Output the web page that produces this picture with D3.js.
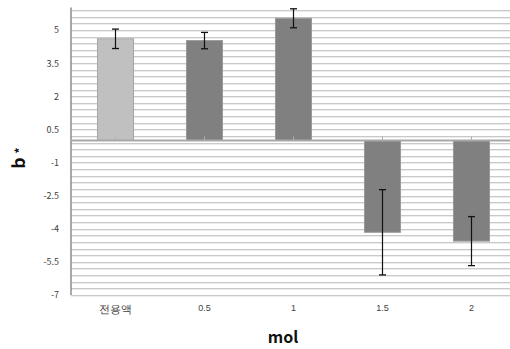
<!DOCTYPE html>
<html><head><meta charset="utf-8">
<script src="https://cdn.jsdelivr.net/npm/d3@7"></script>
<style>
html,body{margin:0;padding:0;background:#fff;}
svg{display:block;font-family:"Noto Sans CJK KR","Noto Sans",sans-serif;}
</style></head>
<body><svg id="c" width="510" height="349"></svg>
<script>
const categories = ["전용액", "0.5", "1", "1.5", "2"];
const values = [4.6, 4.52, 5.53, -4.16, -4.56];
const errors = [0.44, 0.37, 0.43, 1.93, 1.11];
const yTicks = [-7, -5.5, -4, -2.5, -1, 0.5, 2, 3.5, 5];
const barColors = ["#c0c0c0", "#808080", "#808080", "#808080", "#808080"];
const barStrokes = ["#a6a6a6", "#9a9a9a", "#9a9a9a", "#9a9a9a", "#9a9a9a"];

const svg = d3.select("#c");
const pLeft = 71, pRight = 516, pTop = 7.9, pBottom = 295;
const y = d3.scaleLinear().domain([-7, 6]).range([pBottom, pTop]);
const x = d3.scaleBand().domain(categories).range([pLeft, pRight]).paddingInner(0.595).paddingOuter(0.2975);

// gridlines every 0.3
const grid = d3.range(0, 44).map(i => +(-7 + i * 0.3).toFixed(2)).filter(v => v <= 6);
const g = svg.append("g");
grid.forEach(v => {
  g.append("line").attr("x1", pLeft).attr("x2", 510).attr("y1", Math.round(y(v)) + 1.5).attr("y2", Math.round(y(v)) + 1.5).attr("stroke", "#ececec").attr("stroke-width", 1);
  g.append("line").attr("x1", pLeft).attr("x2", 510).attr("y1", Math.round(y(v)) + 0.5).attr("y2", Math.round(y(v)) + 0.5).attr("stroke", "#c9c9c9").attr("stroke-width", 1);
});

// y axis
const yAxis = d3.axisLeft(y).tickValues(yTicks).tickSize(0).tickPadding(12).tickFormat(d => String(d));
const ya = svg.append("g").attr("transform", `translate(${pLeft},0)`).call(yAxis);
ya.select(".domain").remove();
ya.selectAll("text").attr("font-size", 9).attr("fill", "#404040").attr("font-family", "'Noto Sans CJK KR', sans-serif");
svg.append("line").attr("x1", pLeft).attr("x2", pLeft).attr("y1", pTop - 0.5).attr("y2", pBottom).attr("stroke", "#8c8c8c").attr("stroke-width", 1.5);

// bars
svg.append("g").selectAll("rect").data(values).join("rect")
  .attr("x", (d, i) => x(categories[i]))
  .attr("width", x.bandwidth())
  .attr("y", d => Math.min(y(d), y(0)))
  .attr("height", d => Math.abs(y(d) - y(0)))
  .attr("fill", (d, i) => barColors[i])
  .attr("stroke", (d, i) => barStrokes[i])
  .attr("stroke-width", 1);

// zero axis line
svg.append("line").attr("x1", pLeft).attr("x2", 510).attr("y1", y(0)).attr("y2", y(0)).attr("stroke", "#a8a8a8").attr("stroke-width", 2);
// small ticks
svg.append("g").selectAll("line").data(categories).join("line")
  .attr("x1", d => x(d) + x.bandwidth() / 2).attr("x2", d => x(d) + x.bandwidth() / 2)
  .attr("y1", y(0) - 4).attr("y2", y(0)).attr("stroke", "#b0b0b0").attr("stroke-width", 1);

// x labels
const xAxis = d3.axisBottom(x).tickSize(0).tickPadding(0);
const xa = svg.append("g").attr("transform", `translate(0,${pBottom + 10})`).call(xAxis);
xa.select(".domain").remove();
xa.selectAll("text").attr("font-size", 9).attr("fill", "#404040").attr("dy", "0.71em");
xa.selectAll("text").filter(d => d === "전용액").attr("font-size", 11);

// error bars
const eb = svg.append("g");
values.forEach((v, i) => {
  const cx = x(categories[i]) + x.bandwidth() / 2;
  const y1 = y(v + errors[i]), y2 = y(v - errors[i]);
  eb.append("line").attr("x1", cx).attr("x2", cx).attr("y1", y1).attr("y2", y2).attr("stroke", "#111").attr("stroke-width", 1.2);
  [y1, y2].forEach(yy => eb.append("line").attr("x1", cx - 3.5).attr("x2", cx + 3.5).attr("y1", yy).attr("y2", yy).attr("stroke", "#111").attr("stroke-width", 1.3));
});

// axis titles
const yt = svg.append("text").attr("transform", "translate(25,158) rotate(-90)").attr("text-anchor", "middle")
  .attr("font-weight", "bold").attr("fill", "#111");
yt.append("tspan").attr("font-size", 17).text("b");
yt.append("tspan").attr("font-size", 12).attr("dx", 4).attr("dy", -1).text("*");
svg.append("text").attr("x", 283).attr("y", 343).attr("text-anchor", "middle")
  .attr("font-size", 16).attr("font-weight", "bold").attr("fill", "#111").text("mol");
</script></body></html>
